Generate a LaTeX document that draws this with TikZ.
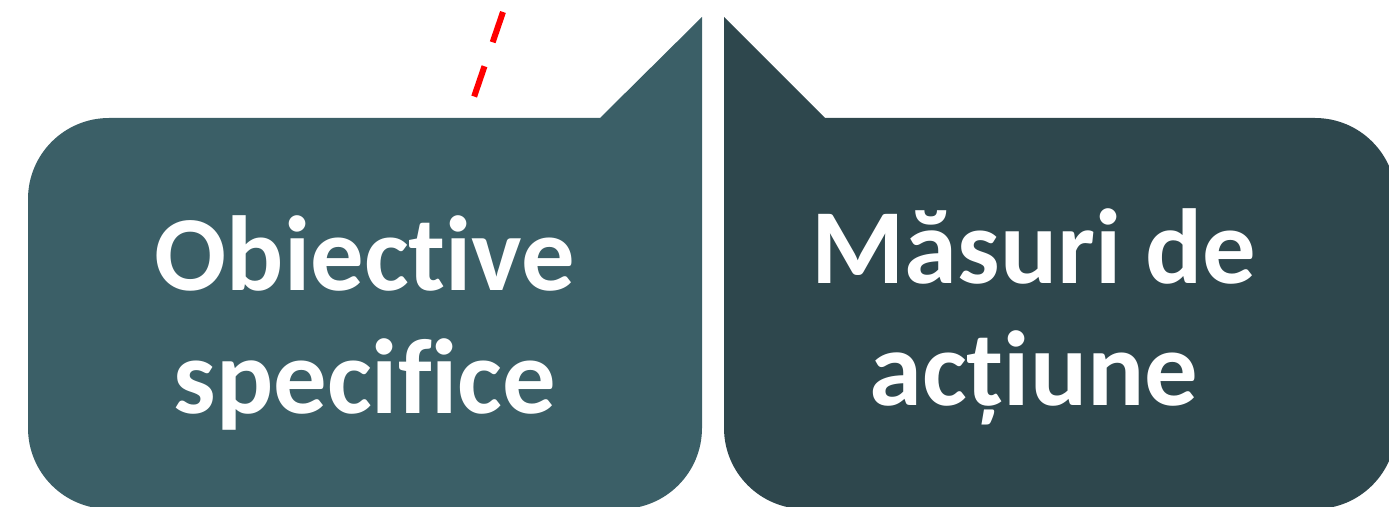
\documentclass[tikz,border=0pt]{standalone}
\usepackage{xcolor}
\usepackage{fontspec}
\setmainfont{Carlito}[Ligatures={NoCommon,NoRare,NoContextual}]
\usepackage{tikz}
\usetikzlibrary{
  positioning,
  calc
}
\definecolor{obTeal}{HTML}{3B5F67}
\definecolor{msDark}{HTML}{2E474D}
\definecolor{cutRed}{HTML}{FF0000}
\tikzset{
  bubbletext/.style={
    text=white, font=\fontsize{80}{92}\selectfont\bfseries, align=center, inner sep=0pt
  },
  obbubble/.style={fill=obTeal},
  msbubble/.style={fill=msDark},
  cutline/.style={draw=cutRed, line width=4.5pt, dash pattern=on 24pt off 19pt}
}

\begin{document}
\begin{tikzpicture}[x=0.75pt, y=0.75pt]
  \useasboundingbox (0,0) rectangle (1389,507);
  % left bubble, pointer up-right
  \path[obbubble] (600,389) -- (702,490) -- (702,79)
    arc[start angle=0, end angle=-90, radius=60.75pt] -- (109,-2)
    arc[start angle=270, end angle=180, radius=60.75pt] -- (28,308)
    arc[start angle=180, end angle=90, radius=60.75pt] -- cycle;
  % right bubble, pointer up-left
  \path[msbubble] (724,490) -- (825,389) -- (1315,389)
    arc[start angle=90, end angle=0, radius=60.75pt] -- (1396,79)
    arc[start angle=0, end angle=-90, radius=60.75pt] -- (805,-2)
    arc[start angle=270, end angle=180, radius=60.75pt] -- cycle;
  % red dashed cut
  \coordinate (cutTop) at (503,495);
  \coordinate (cutEnd) at (474,410);
  \draw[cutline] (cutTop) -- (cutEnd);
  % labels
  \node[bubbletext] (obText) at (365,184) {Obiective\\specifice};
  \node[bubbletext] (msText) at (1034,190) {Măsuri de\\acțiune};
\end{tikzpicture}
\end{document}
